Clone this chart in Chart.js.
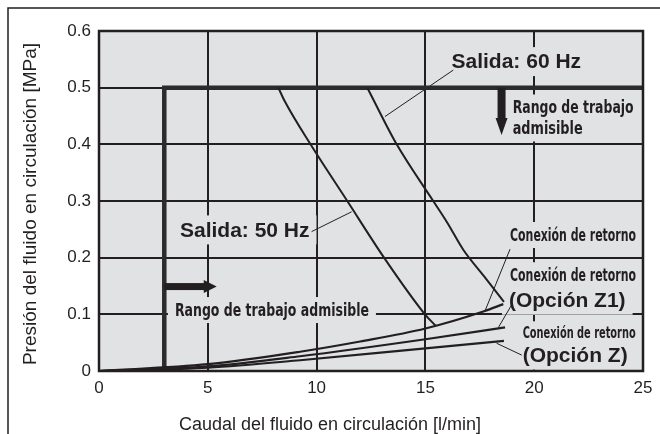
<!DOCTYPE html>
<html>
<head>
<meta charset="utf-8">
<script src="https://cdn.jsdelivr.net/npm/chart.js@4"></script>
<style>
body { margin: 0; background: #fff; }
canvas { display: block; }
</style>
</head>
<body>
<canvas id="chart" width="660" height="434"></canvas>
<script>
// values (flow l/min, pressure MPa)
const flow50 = [8.24, 8.55, 9.72, 11.41, 13.10, 14.98, 15.49];
const pres50 = [0.5, 0.475, 0.4, 0.3, 0.2, 0.1, 0.079];

const flow60 = [12.33, 13.68, 15.36, 16.0, 16.74, 17.7, 18.61];
const pres60 = [0.5, 0.4, 0.3, 0.262, 0.214, 0.167, 0.122];

const flowRet = [0, 5, 9.24, 12, 15, 17.66, 18.58];
const presRet = [0, 0.012, 0.034, 0.052, 0.075, 0.105, 0.118];

const flowZ1 = [0, 5, 9.24, 15, 18.66];
const presZ1 = [0, 0.008, 0.026, 0.056, 0.077];

const flowZ = [0, 5, 9.24, 15, 18.61];
const presZ = [0, 0.006, 0.019, 0.040, 0.053];

// permissible range limits
const rangeFlow = [3, 3, 25];
const rangePres = [0, 0.5, 0.5];

const xTicks = [0, 5, 10, 15, 20, 25];
const yTicks = [0, 0.1, 0.2, 0.3, 0.4, 0.5, 0.6];

// leader lines from the labels to the curves
const leaders = [
    [[16.28, 0.531], [13.14, 0.449]],
    [[9.77, 0.246], [11.61, 0.281]],
    [[18.89, 0.215], [17.74, 0.106]],
    [[18.96, 0.1165], [18.35, 0.0765]],
    [[18.27, 0.049], [19.43, 0.028]]
];

const ink = '#231f20';
const plotBg = '#e1e2e4';
const bold = 'bold 21px "Liberation Sans", Arial, sans-serif';
const narrow = size => `bold ${size}px "Liberation Sans Narrow", "DejaVu Sans Condensed", "Liberation Sans", sans-serif`;

// label texts, anchored at their left edge / vertical centre (data units)
const labels = [
    { text: 'Salida: 60 Hz', x: 16.20, y: 0.546, font: bold },
    { text: 'Rango de trabajo', x: 19.01, y: 0.465, font: narrow(18), w: 121 },
    { text: 'admisible', x: 19.01, y: 0.428, font: narrow(18), w: 70 },
    { text: 'Salida: 50 Hz', x: 3.72, y: 0.249, font: bold },
    { text: 'Rango de trabajo admisible', x: 3.49, y: 0.1076, font: narrow(18), w: 194 },
    { text: 'Conexión de retorno', x: 18.89, y: 0.24, font: narrow(18), w: 126 },
    { text: 'Conexión de retorno', x: 18.89, y: 0.169, font: narrow(18), w: 126 },
    { text: '(Opción Z1)', x: 18.84, y: 0.125, font: bold },
    { text: 'Conexión de retorno', x: 19.47, y: 0.0665, font: narrow(16), w: 113 },
    { text: '(Opción Z)', x: 19.47, y: 0.028, font: bold }
];

// arrows: down arrow at flow 18.5, right arrow at pressure 0.149
const downArrow = { x: 18.5, from: 0.5, to: 0.4165 };
const rightArrow = { y: 0.149, from: 3, to: 5.41 };

function pts(xs, ys) {
    return xs.map((x, i) => ({ x: x, y: ys[i] }));
}

function curve(xs, ys, width) {
    return {
        data: pts(xs, ys),
        borderColor: ink,
        borderWidth: width,
        pointRadius: 0,
        fill: false,
        cubicInterpolationMode: 'monotone'
    };
}

const datasets = [
    curve(flow50, pres50, 2),
    curve(flow60, pres60, 2),
    curve(flowRet, presRet, 2.2),
    curve(flowZ1, presZ1, 2.2),
    curve(flowZ, presZ, 2.2),
    { data: pts(rangeFlow, rangePres), borderColor: '#2b2b2b', borderWidth: 4.5, pointRadius: 0, fill: false, tension: 0 }
];
leaders.forEach(l => {
    datasets.push({ data: l.map(p => ({ x: p[0], y: p[1] })), borderColor: ink, borderWidth: 1, pointRadius: 0, fill: false, tension: 0 });
});

function labelBox(ctx, l, sx, sy) {
    ctx.font = l.font;
    let w = ctx.measureText(l.text).width;
    if (l.w && w > l.w) w = l.w;
    const size = parseInt(l.font.match(/(\d+)px/)[1]);
    return { x: sx.getPixelForValue(l.x), y: sy.getPixelForValue(l.y), w: w, h: size };
}

const backdrop = {
    id: 'backdrop',
    beforeDraw(chart) {
        const ctx = chart.ctx;
        const a = chart.chartArea;
        ctx.save();
        ctx.fillStyle = '#fff';
        ctx.fillRect(0, 0, chart.width, chart.height);
        // outer frame (top and left edges)
        ctx.strokeStyle = ink;
        ctx.lineWidth = 1.5;
        ctx.beginPath();
        ctx.moveTo(8, chart.height);
        ctx.lineTo(8, 8);
        ctx.lineTo(chart.width, 8);
        ctx.stroke();
        ctx.fillStyle = plotBg;
        ctx.fillRect(a.left, a.top, a.right - a.left, a.bottom - a.top);
        ctx.restore();
    }
};

const annotations = {
    id: 'annotations',
    beforeDatasetsDraw(chart) {
        // label backgrounds hide the grid behind the text
        const ctx = chart.ctx;
        const sx = chart.scales.x, sy = chart.scales.y;
        ctx.save();
        ctx.fillStyle = plotBg;
        labels.forEach(l => {
            const b = labelBox(ctx, l, sx, sy);
            ctx.fillRect(b.x - 7, b.y - b.h / 2 - 4, b.w + 14, b.h + 8);
        });
        ctx.restore();
    },
    afterDatasetsDraw(chart) {
        const ctx = chart.ctx;
        const sx = chart.scales.x, sy = chart.scales.y;
        const a = chart.chartArea;
        ctx.save();
        ctx.fillStyle = ink;
        ctx.textBaseline = 'middle';
        ctx.textAlign = 'left';
        labels.forEach(l => {
            const b = labelBox(ctx, l, sx, sy);
            if (l.w) ctx.fillText(l.text, b.x, b.y + 1, l.w);
            else ctx.fillText(l.text, b.x, b.y + 1);
        });

        // down arrow
        let x = sx.getPixelForValue(downArrow.x);
        let y0 = sy.getPixelForValue(downArrow.from);
        let y1 = sy.getPixelForValue(downArrow.to);
        ctx.fillRect(x - 4, y0, 8, y1 - y0 - 16);
        ctx.beginPath();
        ctx.moveTo(x - 6, y1 - 17);
        ctx.lineTo(x + 6, y1 - 17);
        ctx.lineTo(x, y1);
        ctx.closePath();
        ctx.fill();

        // right arrow
        let y = sy.getPixelForValue(rightArrow.y);
        let x0 = sx.getPixelForValue(rightArrow.from);
        let x1 = sx.getPixelForValue(rightArrow.to);
        ctx.fillRect(x0, y - 3.5, x1 - x0 - 12, 7);
        ctx.beginPath();
        ctx.moveTo(x1 - 13, y - 6.5);
        ctx.lineTo(x1 - 13, y + 6.5);
        ctx.lineTo(x1, y);
        ctx.closePath();
        ctx.fill();

        // plot frame
        ctx.strokeStyle = ink;
        ctx.lineWidth = 2.5;
        ctx.strokeRect(a.left, a.top, a.right - a.left, a.bottom - a.top);
        ctx.restore();
    },
    afterDraw(chart) {
        const ctx = chart.ctx;
        const a = chart.chartArea;
        ctx.save();
        ctx.fillStyle = ink;
        ctx.textAlign = 'center';
        ctx.textBaseline = 'middle';
        ctx.font = '18px "Liberation Sans", Arial, sans-serif';
        ctx.fillText('Caudal del fluido en circulación [l/min]', chart.width / 2, 425);
        ctx.font = '19px "Liberation Sans", Arial, sans-serif';
        ctx.translate(31, (a.top + a.bottom) / 2 + 3);
        ctx.rotate(-Math.PI / 2);
        ctx.fillText('Presión del fluido en circulación [MPa]', 0, 0);
        ctx.restore();
    }
};

const tickFont = { family: '"Liberation Sans", Arial, sans-serif', size: 17 };

new Chart(document.getElementById('chart'), {
    type: 'line',
    data: { datasets: datasets },
    options: {
        responsive: false,
        animation: false,
        devicePixelRatio: 1,
        layout: { padding: { left: 0, top: 31, right: 17, bottom: 0 } },
        plugins: { legend: { display: false }, tooltip: { enabled: false } },
        scales: {
            x: {
                type: 'linear',
                min: 0,
                max: 25,
                afterBuildTicks: s => { s.ticks = xTicks.map(v => ({ value: v })); },
                afterFit: s => { s.height = 63; },
                ticks: { font: tickFont, color: ink, padding: 7 },
                grid: { color: ink, lineWidth: 2, drawTicks: false },
                border: { display: false }
            },
            y: {
                type: 'linear',
                min: 0,
                max: 0.6,
                afterBuildTicks: s => { s.ticks = yTicks.map(v => ({ value: v })); },
                afterFit: s => { s.width = 99; },
                ticks: {
                    font: tickFont,
                    color: ink,
                    padding: 8,
                    callback: v => v === 0 ? '0' : v.toFixed(1)
                },
                grid: { color: ink, lineWidth: 2, drawTicks: false },
                border: { display: false }
            }
        }
    },
    plugins: [backdrop, annotations]
});
</script>
</body>
</html>
